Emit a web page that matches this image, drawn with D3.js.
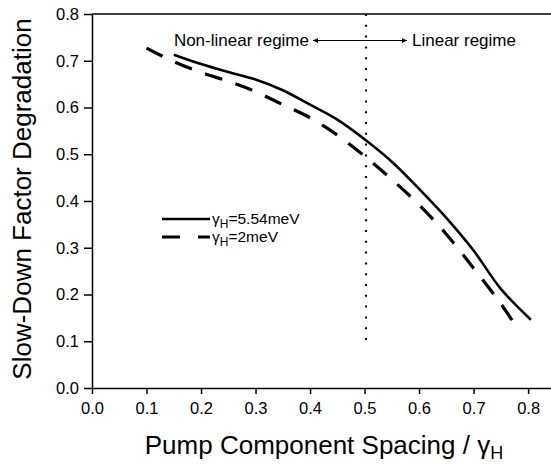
<!DOCTYPE html>
<html>
<head>
<meta charset="utf-8">
<script src="https://cdn.jsdelivr.net/npm/d3@7"></script>
<style>
  body { margin: 0; background: #fff; }
  text { font-family: "Liberation Sans", Arial, sans-serif; fill: #000; }
</style>
</head>
<body>
<div id="chart"></div>
<script>
// data
var spacing554 = [0.15, 0.2, 0.25, 0.3, 0.35, 0.4, 0.45, 0.5, 0.55, 0.6, 0.65, 0.7, 0.75, 0.805];
var degr554 = [0.713, 0.693, 0.676, 0.660, 0.637, 0.606, 0.574, 0.532, 0.484, 0.426, 0.364, 0.294, 0.212, 0.146];

var spacing2 = [0.1, 0.15, 0.2, 0.25, 0.3, 0.35, 0.4, 0.45, 0.5, 0.55, 0.6, 0.65, 0.7, 0.75, 0.785];
var degr2 = [0.727, 0.698, 0.675, 0.656, 0.634, 0.606, 0.578, 0.541, 0.496, 0.446, 0.392, 0.329, 0.256, 0.180, 0.120];

var xTicks = [0, 0.1, 0.2, 0.3, 0.4, 0.5, 0.6, 0.7, 0.8];
var yTicks = [0, 0.1, 0.2, 0.3, 0.4, 0.5, 0.6, 0.7, 0.8];
var legendLabels = ["5.54meV", "2meV"];

var svgWidth = 551;
var svgHeight = 465;

var margin = {
    top: 14,
    bottom: 77,
    right: 0,
    left: 92
};

var height = svgHeight - margin.top - margin.bottom;
var width = svgWidth - margin.left - margin.right;

var svg = d3.select("#chart")
    .append("svg")
    .attr("width", svgWidth)
    .attr("height", svgHeight);

var chartGroup = svg.append("g")
    .attr("transform", `translate(${margin.left}, ${margin.top})`);

// Step 1: scales
// ==============================
var xScale = d3.scaleLinear()
    .domain([0, 0.842])
    .range([0, width]);

var yScale = d3.scaleLinear()
    .domain([0, 0.8])
    .range([height, 0]);

// Step 2: axes
// ==============================
var xAxis = d3.axisBottom(xScale)
    .tickValues(xTicks)
    .tickFormat(d3.format(".1f"))
    .tickSize(6)
    .tickSizeOuter(0)
    .tickPadding(8);

var yAxis = d3.axisLeft(yScale)
    .tickValues(yTicks)
    .tickFormat(d3.format(".1f"))
    .tickSize(8)
    .tickSizeOuter(0)
    .tickPadding(5);

var xg = chartGroup.append("g")
    .attr("transform", `translate(0, ${height})`)
    .call(xAxis);

var yg = chartGroup.append("g")
    .call(yAxis);

[xg, yg].forEach(function (g) {
    g.selectAll("path, line").attr("stroke", "#000").attr("stroke-width", 1.5);
    g.selectAll("text").style("font-size", "16.5px").style("font-family", "Liberation Sans, Arial, sans-serif");
});

// top frame line
chartGroup.append("line")
    .attr("x1", 0)
    .attr("x2", width)
    .attr("y1", yScale(0.8))
    .attr("y2", yScale(0.8))
    .attr("stroke", "#000")
    .attr("stroke-width", 1.5);

// Step 3: regime divider and annotation
// ==============================
chartGroup.append("line")
    .attr("x1", xScale(0.5) + 1.5)
    .attr("x2", xScale(0.5) + 1.5)
    .attr("y1", yScale(0.8))
    .attr("y2", yScale(0.085))
    .attr("stroke", "#000")
    .attr("stroke-width", 2)
    .attr("stroke-dasharray", "2,8.8");

svg.append("defs").append("marker")
    .attr("id", "head")
    .attr("viewBox", "0 0 10 10")
    .attr("refX", 10)
    .attr("refY", 5)
    .attr("markerWidth", 8)
    .attr("markerHeight", 5)
    .attr("orient", "auto-start-reverse")
    .attr("markerUnits", "userSpaceOnUse")
    .append("path")
    .attr("d", "M0,0L10,5L0,10z")
    .attr("fill", "#000");

var arrowY = 40.5 - margin.top;
chartGroup.append("line")
    .attr("x1", 313 - margin.left)
    .attr("x2", 407 - margin.left)
    .attr("y1", arrowY)
    .attr("y2", arrowY)
    .attr("stroke", "#000")
    .attr("stroke-width", 1)
    .attr("marker-start", "url(#head)")
    .attr("marker-end", "url(#head)");

chartGroup.append("text")
    .attr("x", 309 - margin.left)
    .attr("y", 46 - margin.top)
    .attr("text-anchor", "end")
    .style("font-size", "17px")
    .text("Non-linear regime");

chartGroup.append("text")
    .attr("x", 412 - margin.left)
    .attr("y", 46 - margin.top)
    .style("font-size", "17px")
    .text("Linear regime");

// Step 4: curves
// ==============================
var line = d3.line()
    .x(d => xScale(d[0]))
    .y(d => yScale(d[1]))
    .curve(d3.curveCatmullRom.alpha(0.5));

chartGroup.append("path")
    .datum(d3.zip(spacing554, degr554))
    .attr("d", line)
    .attr("fill", "none")
    .attr("stroke", "#000")
    .attr("stroke-width", 2.6);

chartGroup.append("path")
    .datum(d3.zip(spacing2, degr2))
    .attr("d", line)
    .attr("fill", "none")
    .attr("stroke", "#000")
    .attr("stroke-width", 3.2)
    .attr("stroke-dasharray", "18,14");

// Step 5: legend
// ==============================
var legend = chartGroup.append("g")
    .attr("transform", `translate(${162 - margin.left}, ${219 - margin.top})`);

legendLabels.forEach(function (lab, i) {
    var row = legend.append("g").attr("transform", `translate(0, ${i * 18})`);
    row.append("line")
        .attr("x1", 0)
        .attr("x2", 48)
        .attr("y1", 0)
        .attr("y2", 0)
        .attr("stroke", "#000")
        .attr("stroke-width", i === 0 ? 2.6 : 3.2)
        .attr("stroke-dasharray", i === 0 ? null : "18,18");
    var t = row.append("text")
        .attr("x", 50)
        .attr("y", 5)
        .style("font-size", "15.5px");
    t.append("tspan").text("γ");
    t.append("tspan").attr("dy", 4).style("font-size", "12px").text("H");
    t.append("tspan").attr("dy", -4).text("=" + lab);
});

// Step 6: axis labels
// ==============================
var xTitle = svg.append("text")
    .attr("x", 324)
    .attr("y", 454)
    .attr("text-anchor", "middle")
    .style("font-size", "26px");
xTitle.append("tspan").text("Pump Component Spacing / γ");
xTitle.append("tspan").attr("dy", 5).style("font-size", "18px").text("H");

svg.append("text")
    .attr("transform", "rotate(-90)")
    .attr("x", -199)
    .attr("y", 31)
    .attr("text-anchor", "middle")
    .style("font-size", "26px")
    .text("Slow-Down Factor Degradation");
</script>
</body>
</html>
